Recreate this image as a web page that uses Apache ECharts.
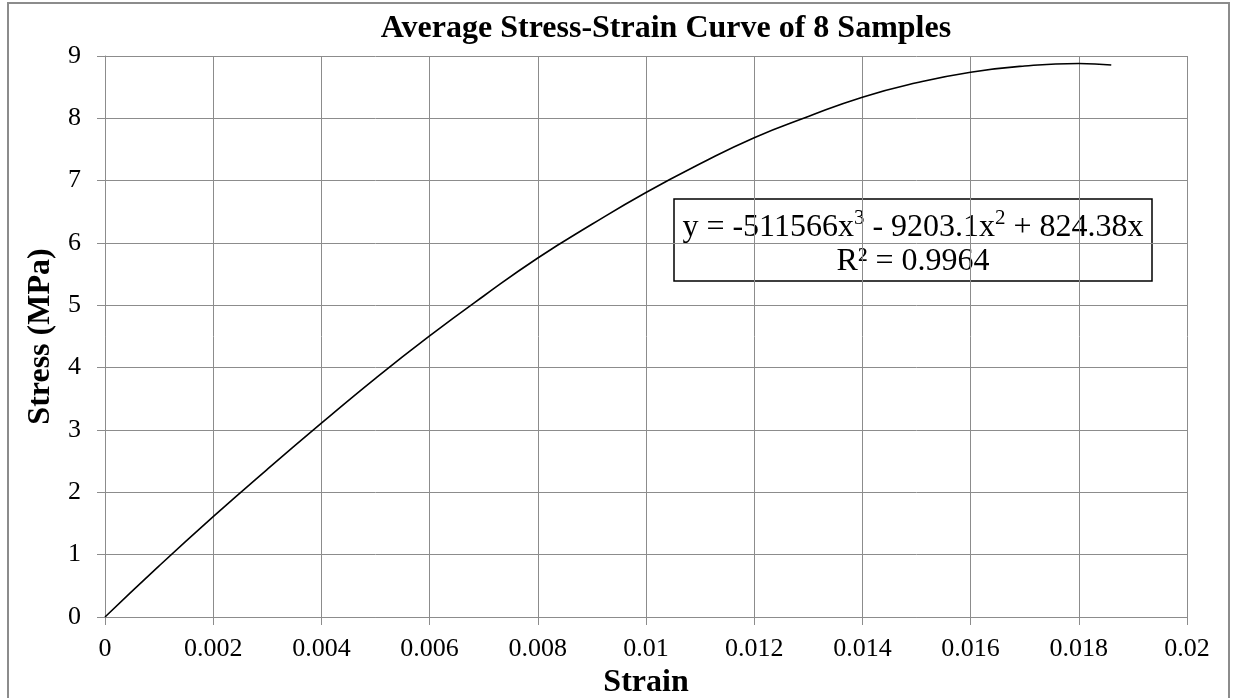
<!DOCTYPE html>
<html>
<head>
<meta charset="utf-8">
<script src="https://cdn.jsdelivr.net/npm/echarts@6/dist/echarts.min.js"></script>
<style>
html,body{margin:0;padding:0;background:#fff;}
#chart{width:1233px;height:698px;}
</style>
</head>
<body>
<div id="chart"></div>
<script>
// Data
const strain = [0, 0.001, 0.002, 0.003, 0.004, 0.005, 0.006, 0.007, 0.008, 0.009, 0.010, 0.011, 0.012, 0.013, 0.014, 0.015, 0.016, 0.017, 0.018, 0.0186];
const stress = [0, 0.82, 1.61, 2.37, 3.11, 3.83, 4.51, 5.15, 5.76, 6.30, 6.81, 7.27, 7.69, 8.03, 8.34, 8.57, 8.74, 8.84, 8.88, 8.855];

const chartTitle = 'Average Stress-Strain Curve of 8 Samples';
const xName = 'Strain';
const yName = 'Stress (MPa)';
// trendline equation parts: [text, isSuperscript]
const eqParts = [['y = -511566x', false], ['3', true], [' - 9203.1x', false], ['2', true], [' + 824.38x', false]];
const eqLine2 = 'R\u00B2 = 0.9964';

const FONT = "'Liberation Serif', 'Times New Roman', serif";
const GRID_COLOR = '#8c8c8c';

const eqRichText = eqParts.map(p => '{' + (p[1] ? 's' : 'n') + '|' + p[0] + '}').join('');

const chart = echarts.init(document.getElementById('chart'), null, {renderer: 'canvas'});

const option = {
  animation: false,
  backgroundColor: '#ffffff',
  title: {
    text: chartTitle,
    left: 661,
    top: 8,
    textAlign: 'center',
    textStyle: {fontFamily: FONT, fontSize: 32, fontWeight: 'bold', color: '#000'}
  },
  grid: {left: 105, right: 46, top: 56, bottom: 81, containLabel: false, outerBoundsMode: 'none'},
  xAxis: {
    type: 'value',
    min: 0,
    max: 0.02,
    interval: 0.002,
    name: xName,
    nameLocation: 'middle',
    nameGap: 47,
    nameTextStyle: {fontFamily: FONT, fontSize: 32, fontWeight: 'bold', color: '#000'},
    axisLine: {show: true, lineStyle: {color: GRID_COLOR, width: 1}},
    axisTick: {show: true, length: 8, lineStyle: {color: GRID_COLOR, width: 1}},
    axisLabel: {fontFamily: FONT, fontSize: 26, color: '#000', margin: 19},
    splitLine: {show: true, lineStyle: {color: GRID_COLOR, width: 1}}
  },
  yAxis: {
    type: 'value',
    min: 0,
    max: 9,
    interval: 1,
    name: yName,
    nameLocation: 'middle',
    nameGap: 46,
    nameRotate: 90,
    nameTextStyle: {fontFamily: FONT, fontSize: 32, fontWeight: 'bold', color: '#000'},
    axisLine: {show: true, lineStyle: {color: GRID_COLOR, width: 1}},
    axisTick: {show: true, length: 8, lineStyle: {color: GRID_COLOR, width: 1}},
    axisLabel: {fontFamily: FONT, fontSize: 26, color: '#000', margin: 24},
    splitLine: {show: true, lineStyle: {color: GRID_COLOR, width: 1}}
  },
  series: [{
    type: 'line',
    data: strain.map((x, i) => [x, stress[i]]),
    showSymbol: false,
    smooth: 0.5,
    lineStyle: {color: '#000', width: 1.6},
    z: 3
  }],
  graphic: [
    {
      type: 'rect',
      z: -10,
      silent: true,
      shape: {x: 8, y: 3, width: 1221, height: 710},
      style: {fill: 'none', stroke: '#8c8c8c', lineWidth: 2}
    },
    {
      type: 'group',
      x: 674,
      y: 199,
      z: 100,
      children: [
        {
          type: 'rect',
          shape: {x: 0, y: 0, width: 478, height: 82},
          style: {fill: '#fff', stroke: '#000', lineWidth: 1.5}
        },
        {
          type: 'text',
          x: 239,
          y: 27,
          style: {
            text: eqRichText,
            fill: '#000',
            font: '32px ' + FONT,
            align: 'center',
            verticalAlign: 'middle',
            textAlign: 'center',
            textVerticalAlign: 'middle',
            rich: {
              n: {fontFamily: FONT, fontSize: 32, lineHeight: 36, fill: '#000', color: '#000', verticalAlign: 'bottom'},
              s: {fontFamily: FONT, fontSize: 21, lineHeight: 36, fill: '#000', color: '#000', verticalAlign: 'top', padding: [0, 0, 12, 0]}
            }
          }
        },
        {
          type: 'text',
          x: 239,
          y: 63,
          style: {text: eqLine2, fill: '#000', font: '32px ' + FONT, align: 'center', verticalAlign: 'middle', textAlign: 'center', textVerticalAlign: 'middle'}
        }
      ]
    }
  ]
};

chart.setOption(option);
</script>
</body>
</html>
